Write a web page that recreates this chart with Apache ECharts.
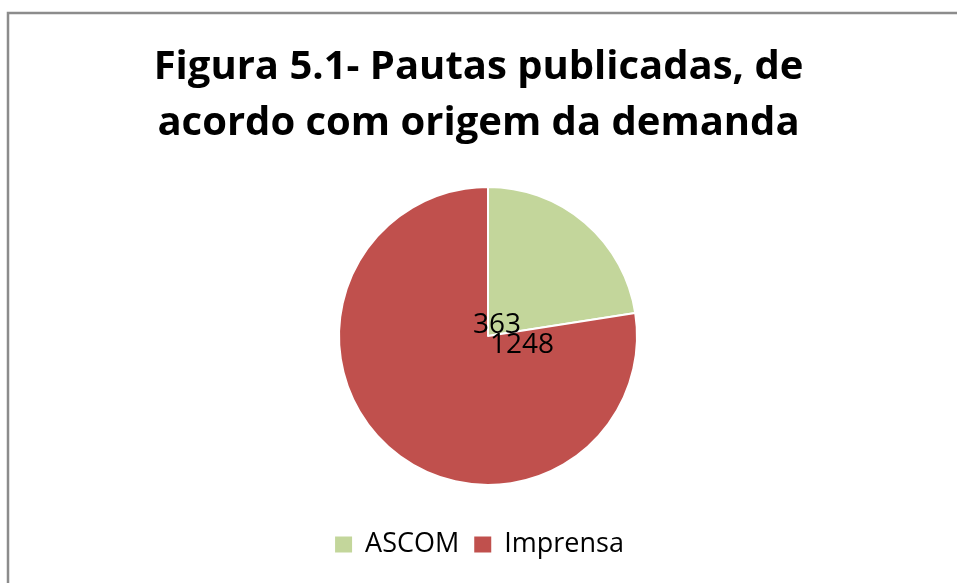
<!DOCTYPE html>
<html>
<head>
<meta charset="utf-8">
<script src="https://cdn.jsdelivr.net/npm/echarts@6/dist/echarts.min.js"></script>
<style>
  html, body { margin: 0; padding: 0; background: #fff; }
  #main { width: 957px; height: 583px; }
</style>
</head>
<body>
<div id="main"></div>
<script>
// dados
var categorias = ['ASCOM', 'Imprensa'];
var valores = [363, 1248];
var cores = ['#C3D69B', '#C0504D'];
var titulo = 'Figura 5.1- Pautas publicadas, de\nacordo com origem da demanda';

var myChart = echarts.init(document.getElementById('main'));

var dados = categorias.map(function (c, i) {
  return { name: c, value: valores[i], itemStyle: { color: cores[i] } };
});

// deslocamento dos rótulos (no Excel ficam amontoados perto do centro)
var deslocRotulo = [[9, -11], [34, 9]];

var option = {
  animation: false,
  title: {
    text: titulo,
    left: 'center',
    top: 35,
    textStyle: {
      fontFamily: 'Open Sans',
      fontWeight: 'bold',
      fontSize: 40,
      lineHeight: 56,
      color: '#000'
    }
  },
  legend: {
    data: categorias,
    bottom: 20,
    left: 'center',
    icon: 'rect',
    itemWidth: 19,
    itemHeight: 18,
    itemGap: 13,
    textStyle: {
      fontFamily: 'Open Sans',
      fontSize: 27,
      color: '#000',
      padding: [0, 0, 0, 7]
    }
  },
  graphic: [{
    type: 'rect',
    shape: { x: 8, y: 13, width: 1000, height: 1000 },
    style: { fill: 'none', stroke: '#8c8c8c', lineWidth: 2.5 },
    silent: true
  }],
  series: [{
    type: 'pie',
    center: [488, 336],
    radius: 149,
    startAngle: 90,
    clockwise: true,
    data: dados,
    itemStyle: { borderColor: '#fff', borderWidth: 2 },
    label: {
      show: true,
      position: 'center',
      formatter: '{c}',
      fontFamily: 'Open Sans',
      fontSize: 28,
      color: '#000'
    },
    labelLayout: function (params) {
      var d = deslocRotulo[params.dataIndex];
      return { dx: d[0], dy: d[1] };
    },
    emphasis: { disabled: true }
  }]
};

myChart.setOption(option);
</script>
</body>
</html>
